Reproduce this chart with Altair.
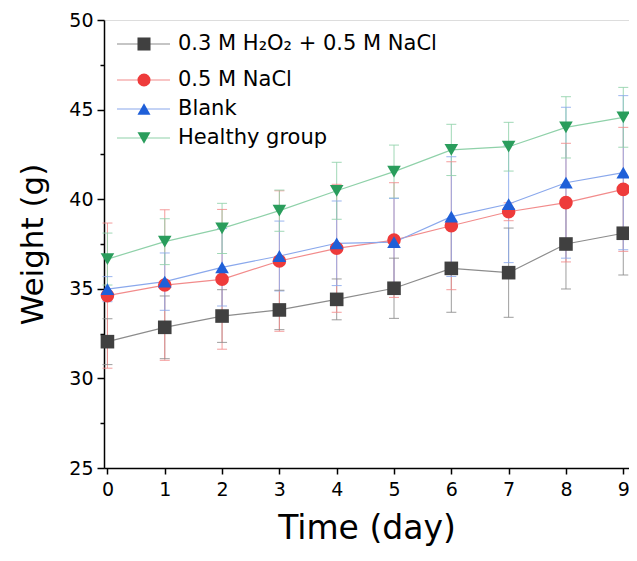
import altair as alt
import pandas as pd

days = [0, 1, 2, 3, 4, 5, 6, 7, 8, 9]
series = ["0.3 M H₂O₂ + 0.5 M NaCl", "0.5 M NaCl", "Blank", "Healthy group"]

w_h2o2 = [32.05, 32.85, 33.48, 33.82, 34.41, 35.03, 36.14, 35.90, 37.50, 38.10]
w_nacl = [34.62, 35.21, 35.53, 36.55, 37.26, 37.72, 38.52, 39.30, 39.81, 40.55]
w_blank = [34.98, 35.40, 36.20, 36.83, 37.54, 37.60, 39.03, 39.73, 40.92, 41.48]
w_healthy = [36.66, 37.63, 38.37, 39.36, 40.47, 41.54, 42.75, 42.93, 44.01, 44.57]

sd_h2o2 = [1.28, 1.75, 1.47, 1.10, 1.14, 1.68, 2.45, 2.49, 2.51, 2.33]
sd_nacl = [4.05, 4.20, 3.90, 3.92, 3.57, 3.20, 3.57, 0.50, 3.31, 3.46]
sd_blank = [0.70, 1.60, 2.16, 1.95, 2.36, 2.45, 3.34, 3.27, 4.21, 4.30]
sd_healthy = [1.45, 1.28, 1.40, 1.15, 1.59, 1.48, 1.43, 1.36, 1.71, 1.67]

marker_colors = ["#404040", "#ee3b3b", "#1f5fd8", "#2a9d5c"]
line_colors = ["#8c8c8c", "#f28b8b", "#8aa8ec", "#8fd1a9"]
shapes = ["square", "circle", "triangle-up", "triangle-down"]

rows = []
for name, ws, sds in zip(series, [w_h2o2, w_nacl, w_blank, w_healthy],
                         [sd_h2o2, sd_nacl, sd_blank, sd_healthy]):
    for d, w, s in zip(days, ws, sds):
        rows.append({"series": name, "day": d, "w": w, "lo": w - s, "hi": w + s})
df = pd.DataFrame(rows)

FONT = "DejaVu Sans"

xax = alt.Axis(values=days, title="Time (day)", grid=False, tickSize=6,
               labelFontSize=19, titleFontSize=33, titleFontWeight="normal",
               labelPadding=6, titlePadding=13, domainColor="black",
               tickColor="black", domainWidth=1.5, tickWidth=1.5,
               labelColor="black", titleColor="black", labelFont=FONT,
               titleFont=FONT, labelOverlap=False, labelBound=False, labelFlush=False)
yax = alt.Axis(values=[25, 27.5, 30, 32.5, 35, 37.5, 40, 42.5, 45, 47.5, 50],
               labelExpr="datum.value % 5 === 0 ? datum.label : ''",
               title="Weight (g)", grid=False,
               tickSize={"condition": {"test": "datum.value % 5 === 0", "value": 7}, "value": 4},
               labelFontSize=19, titleFontSize=31, titleFontWeight="normal",
               labelPadding=4, titlePadding=19, domainColor="black",
               tickColor="black", domainWidth=1.5, tickWidth=1.5,
               labelColor="black", titleColor="black", labelFont=FONT,
               titleFont=FONT)

X = alt.X("day:Q", scale=alt.Scale(domain=[-0.06, 9.1], nice=False, zero=False), axis=xax)
Y = alt.Y("w:Q", scale=alt.Scale(domain=[25, 50], nice=False, zero=False), axis=yax)
line_color = alt.Color("series:N", scale=alt.Scale(domain=series, range=line_colors), legend=None)

base = alt.Chart(df)

err = base.mark_rule(strokeWidth=1, opacity=0.85).encode(
    x=X, y=alt.Y("lo:Q"), y2="hi:Q", color=line_color)
cap_lo = base.mark_tick(orient="horizontal", size=10, thickness=1, opacity=0.85).encode(
    x=X, y=alt.Y("lo:Q"), color=line_color)
cap_hi = base.mark_tick(orient="horizontal", size=10, thickness=1, opacity=0.85).encode(
    x=X, y=alt.Y("hi:Q"), color=line_color)
lines = base.mark_line(strokeWidth=1.2).encode(
    x=X, y=Y, color=line_color, detail="series:N")
points = base.mark_point(filled=True, opacity=1, size=185, strokeWidth=0).encode(
    x=X, y=Y,
    fill=alt.Fill("series:N", scale=alt.Scale(domain=series, range=marker_colors), legend=None),
    shape=alt.Shape("series:N", scale=alt.Scale(domain=series, range=shapes), legend=None))

# manual legend (line through marker, like the original)
leg_y = [24, 60, 89, 118]
legend_layers = []
for i, name in enumerate(series):
    ld = alt.Chart(pd.DataFrame({"name": [name]}))
    legend_layers.append(ld.mark_rule(color=line_colors[i], strokeWidth=1.2).encode(
        x=alt.value(13), x2=alt.value(66), y=alt.value(leg_y[i])))
    legend_layers.append(ld.mark_point(filled=True, opacity=1, size=170, strokeWidth=0,
                                       fill=marker_colors[i], shape=shapes[i]).encode(
        x=alt.value(40), y=alt.value(leg_y[i])))
    legend_layers.append(ld.mark_text(align="left", baseline="middle", fontSize=21,
                                      font=FONT, color="black").encode(
        x=alt.value(74), y=alt.value(leg_y[i]), text="name:N"))

chart = alt.layer(err, cap_lo, cap_hi, lines, points, *legend_layers).properties(
    width=525, height=448,
    autosize=alt.AutoSizeParams(type="none"),
    padding={"left": 96, "top": 12, "right": 0, "bottom": 78},
).configure_view(stroke="black", strokeWidth=1.5).configure(background="white")

chart.save("out.html", embed_options={"renderer": "svg", "actions": False})
